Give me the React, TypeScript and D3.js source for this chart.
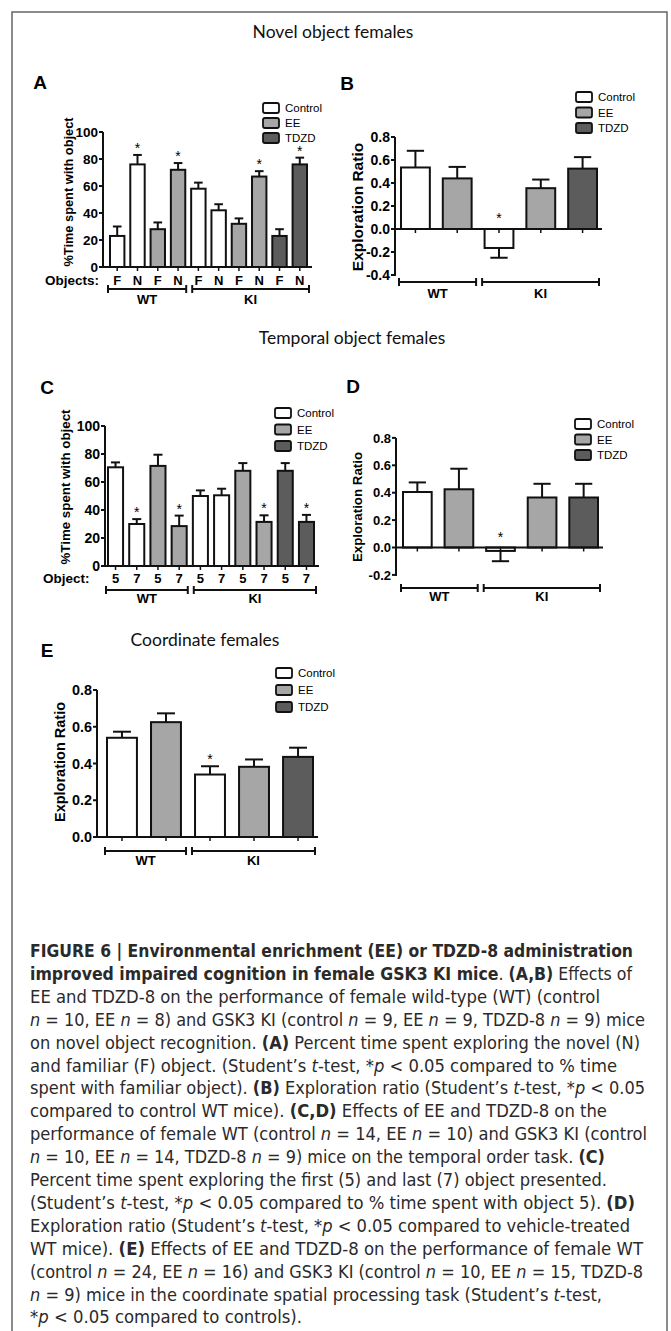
import React from "react";
import * as d3 from "d3";

// ---------- data ----------
const legendItems = ["Control", "EE", "TDZD"];

// A: novel object, % time with object
const novelObjects = ["F", "N", "F", "N", "F", "N", "F", "N", "F", "N"];
const novelGroups = ["Control", "Control", "EE", "EE", "Control", "Control", "EE", "EE", "TDZD", "TDZD"];
const novelGenotype = ["WT", "WT", "WT", "WT", "KI", "KI", "KI", "KI", "KI", "KI"];
const novelTime = [23, 76, 28, 72, 58, 42, 32, 67, 23, 76];
const novelTimeSem = [7, 7, 5, 5, 4.5, 4.5, 4, 4, 5, 5];
const novelTimeStar = [false, true, false, true, false, false, false, true, false, true];

// B: novel object, exploration ratio
const ratioGroups = ["Control", "EE", "Control", "EE", "TDZD"];
const ratioGenotype = ["WT", "WT", "KI", "KI", "KI"];
const novelRatio = [0.535, 0.44, -0.165, 0.355, 0.525];
const novelRatioSem = [0.145, 0.1, 0.085, 0.075, 0.1];
const novelRatioStar = [false, false, true, false, false];

// C: temporal order, % time with object
const temporalObjects = ["5", "7", "5", "7", "5", "7", "5", "7", "5", "7"];
const temporalTime = [70.5, 30, 71.5, 28.5, 50, 50.5, 68, 31.5, 68, 31.5];
const temporalTimeSem = [3.5, 3.5, 8, 7.5, 4, 4.7, 5.5, 4.7, 5.5, 5];
const temporalTimeStar = [false, true, false, true, false, false, false, true, false, true];

// D: temporal order, exploration ratio
const temporalRatio = [0.405, 0.425, -0.025, 0.365, 0.365];
const temporalRatioSem = [0.07, 0.15, 0.075, 0.1, 0.1];
const temporalRatioStar = [false, false, true, false, false];

// E: coordinate, exploration ratio
const coordRatio = [0.54, 0.625, 0.34, 0.382, 0.436];
const coordRatioSem = [0.033, 0.048, 0.045, 0.04, 0.05];
const coordRatioStar = [false, false, true, false, false];

// caption: each line is a list of [text, style] ("b" bold, "i" italic, "" plain)
const captionLines: [string, string][][] = [
  [["FIGURE 6 | Environmental enrichment (EE) or TDZD-8 administration", "b"]],
  [["improved impaired cognition in female GSK3 KI mice", "b"], [". ", ""], ["(A,B)", "b"], [" Effects of", ""]],
  [["EE and TDZD-8 on the performance of female wild-type (WT) (control", ""]],
  [["n", "i"], [" = 10, EE ", ""], ["n", "i"], [" = 8) and GSK3 KI (control ", ""], ["n", "i"], [" = 9, EE ", ""], ["n", "i"], [" = 9, TDZD-8 ", ""], ["n", "i"], [" = 9) mice", ""]],
  [["on novel object recognition. ", ""], ["(A)", "b"], [" Percent time spent exploring the novel (N)", ""]],
  [["and familiar (F) object. (Student\u2019s ", ""], ["t", "i"], ["-test, *", ""], ["p", "i"], [" < 0.05 compared to % time", ""]],
  [["spent with familiar object). ", ""], ["(B)", "b"], [" Exploration ratio (Student\u2019s ", ""], ["t", "i"], ["-test, *", ""], ["p", "i"], [" < 0.05", ""]],
  [["compared to control WT mice). ", ""], ["(C,D)", "b"], [" Effects of EE and TDZD-8 on the", ""]],
  [["performance of female WT (control ", ""], ["n", "i"], [" = 14, EE ", ""], ["n", "i"], [" = 10) and GSK3 KI (control", ""]],
  [["n", "i"], [" = 10, EE ", ""], ["n", "i"], [" = 14, TDZD-8 ", ""], ["n", "i"], [" = 9) mice on the temporal order task. ", ""], ["(C)", "b"]],
  [["Percent time spent exploring the first (5) and last (7) object presented.", ""]],
  [["(Student\u2019s ", ""], ["t", "i"], ["-test, *", ""], ["p", "i"], [" < 0.05 compared to % time spent with object 5). ", ""], ["(D)", "b"]],
  [["Exploration ratio (Student\u2019s ", ""], ["t", "i"], ["-test, *", ""], ["p", "i"], [" < 0.05 compared to vehicle-treated", ""]],
  [["WT mice). ", ""], ["(E)", "b"], [" Effects of EE and TDZD-8 on the performance of female WT", ""]],
  [["(control ", ""], ["n", "i"], [" = 24, EE ", ""], ["n", "i"], [" = 16) and GSK3 KI (control ", ""], ["n", "i"], [" = 10, EE ", ""], ["n", "i"], [" = 15, TDZD-8", ""]],
  [["n", "i"], [" = 9) mice in the coordinate spatial processing task (Student\u2019s ", ""], ["t", "i"], ["-test,", ""]],
  [["*", ""], ["p", "i"], [" < 0.05 compared to controls).", ""]],
];
// right edge of each caption line in the figure
const captionEnds = [633, 632, 600, 645, 640, 617, 645, 607, 647, 605, 607, 635, 630, 643, 643, 602, 302];

// ---------- styling ----------
const fills: Record<string, string> = { Control: "#ffffff", EE: "#a6a6a6", TDZD: "#5c5c5c" };
const ARIAL = "'Liberation Sans', Arial, sans-serif";
const fmtLocale = d3.formatLocale({ decimal: ".", thousands: ",", grouping: [3], currency: ["", ""], minus: "-" });

type PanelSpec = {
  letter: string; letterX: number; letterY: number;
  values: number[]; sems: number[]; stars: boolean[];
  groups: string[]; genotype: string[];
  xLabels?: string[]; xTitle?: string; xTitleX?: number; labelY?: number;
  yDomain: [number, number]; yRange: [number, number]; nTicks: number; tickFmt: string; tickSize: number;
  axisX: number; barStart: number; barEnd: number; padInner: number;
  yLabel: string; yLabelX: number; yLabelY: number; yLabelSize: number;
  legendX: number; legendY: number; legendStep: number;
  bracketY: number; genoLabelY: number;
};

function Panel(p: PanelSpec) {
  const y = d3.scaleLinear().domain(p.yDomain).range(p.yRange);
  const x = d3.scaleBand<number>().domain(d3.range(p.values.length)).range([p.barStart, p.barEnd])
    .paddingInner(p.padInner).paddingOuter(0);
  const bw = x.bandwidth();
  const y0 = y(0);
  const ticks = y.ticks(p.nTicks);
  const fmt = fmtLocale.format(p.tickFmt);
  const cap = bw * 0.6;

  const wtIdx = p.genotype.map((g, i) => (g === "WT" ? i : -1)).filter((i) => i >= 0);
  const kiIdx = p.genotype.map((g, i) => (g === "KI" ? i : -1)).filter((i) => i >= 0);
  const mid = ((x(wtIdx[wtIdx.length - 1]) as number) + bw + (x(kiIdx[0]) as number)) / 2;
  const brackets = [
    { name: "WT", x1: (x(wtIdx[0]) as number) - 2, x2: mid - 2 },
    { name: "KI", x1: mid + 4, x2: (x(kiIdx[kiIdx.length - 1]) as number) + bw + 2 },
  ];

  return (
    <g>
      <text x={p.letterX} y={p.letterY} fontFamily={ARIAL} fontWeight="bold" fontSize={19} textAnchor="middle">{p.letter}</text>

      {/* bars */}
      {p.values.map((v, i) => {
        const bx = x(i) as number;
        const top = Math.min(y(v), y0);
        return (
          <rect key={"b" + i} x={bx} y={top} width={bw} height={Math.abs(y(v) - y0)}
            fill={fills[p.groups[i]]} stroke="#111" strokeWidth={2} />
        );
      })}

      {/* error bars */}
      {p.values.map((v, i) => {
        const cx = (x(i) as number) + bw / 2;
        const e = v >= 0 ? v + p.sems[i] : v - p.sems[i];
        return (
          <g key={"e" + i} stroke="#111" strokeWidth={2}>
            <line x1={cx} x2={cx} y1={y(v)} y2={y(e)} />
            <line x1={cx - cap / 2} x2={cx + cap / 2} y1={y(e)} y2={y(e)} />
          </g>
        );
      })}

      {/* significance stars */}
      {p.values.map((v, i) => {
        if (!p.stars[i]) return null;
        const cx = (x(i) as number) + bw / 2;
        const cy = v >= 0 ? y(v + p.sems[i]) - 9 : y0 - 13;
        return <text key={"s" + i} x={cx} y={cy + 7} textAnchor="middle" fontFamily={ARIAL} fontSize={14}>*</text>;
      })}

      {/* y axis */}
      <line x1={p.axisX} x2={p.axisX} y1={y(p.yDomain[0]) + 1} y2={y(p.yDomain[1])} stroke="#111" strokeWidth={2} />
      {ticks.map((t) => (
        <g key={"t" + t}>
          <line x1={p.axisX - 4} x2={p.axisX} y1={y(t)} y2={y(t)} stroke="#111" strokeWidth={2} />
          <text x={p.axisX - 5} y={y(t) + p.tickSize * 0.36} textAnchor="end" fontFamily={ARIAL}
            fontWeight="bold" fontSize={p.tickSize}>{fmt(t)}</text>
        </g>
      ))}
      <text transform={`translate(${p.yLabelX},${p.yLabelY}) rotate(-90)`} textAnchor="middle"
        fontFamily={ARIAL} fontWeight="bold" fontSize={p.yLabelSize}>{p.yLabel}</text>

      {/* x axis at zero */}
      <line x1={p.axisX} x2={p.barEnd + 5} y1={y0} y2={y0} stroke="#111" strokeWidth={2} />
      {p.values.map((_, i) => {
        const cx = (x(i) as number) + bw / 2;
        return <line key={"xt" + i} x1={cx} x2={cx} y1={y0} y2={y0 + 4} stroke="#111" strokeWidth={1.5} />;
      })}

      {/* object labels */}
      {p.xTitle && (
        <text x={p.xTitleX} y={p.labelY} fontFamily={ARIAL} fontWeight="bold" fontSize={13.5}>{p.xTitle}</text>
      )}
      {p.xLabels && p.xLabels.map((l, i) => (
        <text key={"xl" + i} x={(x(i) as number) + bw / 2} y={p.labelY} textAnchor="middle"
          fontFamily={ARIAL} fontWeight="bold" fontSize={13}>{l}</text>
      ))}

      {/* genotype brackets */}
      {brackets.map((b) => (
        <g key={b.name}>
          <g stroke="#111" strokeWidth={2}>
            <line x1={b.x1} x2={b.x2} y1={p.bracketY} y2={p.bracketY} />
            <line x1={b.x1} x2={b.x1} y1={p.bracketY - 4} y2={p.bracketY + 4} />
            <line x1={b.x2} x2={b.x2} y1={p.bracketY - 4} y2={p.bracketY + 4} />
          </g>
          <text x={(b.x1 + b.x2) / 2} y={p.genoLabelY} textAnchor="middle" fontFamily={ARIAL}
            fontWeight="bold" fontSize={13}>{b.name}</text>
        </g>
      ))}

      {/* legend */}
      {legendItems.map((name, i) => {
        const cy = p.legendY + i * p.legendStep;
        return (
          <g key={"lg" + name}>
            <rect x={p.legendX} y={cy - 5} width={16} height={10} rx={2} fill={fills[name]} stroke="#111" strokeWidth={1.8} />
            <text x={p.legendX + 22} y={cy + 4} fontFamily={ARIAL} fontSize={11.5}>{name}</text>
          </g>
        );
      })}
    </g>
  );
}

export default function App() {
  const captionTop = 957;
  const captionStep = 22.9;
  return (
    <div style={{ position: "absolute", left: 0, top: 0 }}>
      <svg width={671} height={1331} style={{ display: "block", background: "#fff" }}>
        <rect x={12} y={12} width={655} height={1330} fill="none" stroke="#666" strokeWidth={1.5} />

        <g fontFamily="Lato, 'Open Sans', sans-serif" fontSize={17.5} textAnchor="middle" fill="#111">
          <text x={333} y={38}>Novel object females</text>
          <text x={352} y={344}>Temporal object females</text>
          <text x={205} y={646}>Coordinate females</text>
        </g>

        <Panel letter="A" letterX={40} letterY={88.5}
          values={novelTime} sems={novelTimeSem} stars={novelTimeStar}
          groups={novelGroups} genotype={novelGenotype}
          xLabels={novelObjects} xTitle="Objects:" xTitleX={45} labelY={285}
          yDomain={[0, 100]} yRange={[267, 132]} nTicks={5} tickFmt="d" tickSize={13.5}
          axisX={103} barStart={110} barEnd={307} padInner={0.29}
          yLabel="%Time spent with object" yLabelX={72.5} yLabelY={192} yLabelSize={12.8}
          legendX={263} legendY={108} legendStep={15}
          bracketY={289} genoLabelY={304} />

        <Panel letter="B" letterX={347} letterY={89.5}
          values={novelRatio} sems={novelRatioSem} stars={novelRatioStar}
          groups={ratioGroups} genotype={ratioGenotype}
          yDomain={[-0.4, 0.8]} yRange={[275, 137]} nTicks={6} tickFmt=".1f" tickSize={14}
          axisX={395} barStart={401} barEnd={597} padInner={0.31}
          yLabel="Exploration Ratio" yLabelX={362.5} yLabelY={207} yLabelSize={15.5}
          legendX={576} legendY={97} legendStep={15.5}
          bracketY={282} genoLabelY={298} />

        <Panel letter="C" letterX={47} letterY={393.5}
          values={temporalTime} sems={temporalTimeSem} stars={temporalTimeStar}
          groups={novelGroups} genotype={novelGenotype}
          xLabels={temporalObjects} xTitle="Object:" xTitleX={43} labelY={583}
          yDomain={[0, 100]} yRange={[566, 426]} nTicks={5} tickFmt="d" tickSize={14}
          axisX={105} barStart={108} barEnd={314} padInner={0.29}
          yLabel="%Time spent with object" yLabelX={70} yLabelY={487} yLabelSize={13.3}
          legendX={275} legendY={413} legendStep={16.5}
          bracketY={590} genoLabelY={603} />

        <Panel letter="D" letterX={353} letterY={392.5}
          values={temporalRatio} sems={temporalRatioSem} stars={temporalRatioStar}
          groups={ratioGroups} genotype={ratioGenotype}
          yDomain={[-0.2, 0.8]} yRange={[574.9, 437.9]} nTicks={5} tickFmt=".1f" tickSize={13}
          axisX={396} barStart={403} barEnd={598} padInner={0.31}
          yLabel="Exploration Ratio" yLabelX={362} yLabelY={507} yLabelSize={13.3}
          legendX={575} legendY={424} legendStep={15.5}
          bracketY={588} genoLabelY={601} />

        <Panel letter="E" letterX={47} letterY={656.5}
          values={coordRatio} sems={coordRatioSem} stars={coordRatioStar}
          groups={ratioGroups} genotype={ratioGenotype}
          yDomain={[0, 0.8]} yRange={[837, 690]} nTicks={4} tickFmt=".1f" tickSize={14.4}
          axisX={97} barStart={107} barEnd={313} padInner={0.32}
          yLabel="Exploration Ratio" yLabelX={65} yLabelY={762} yLabelSize={14.5}
          legendX={276} legendY={673} legendStep={17}
          bracketY={851} genoLabelY={865} />

        {/* caption */}
        <g fontFamily="'Liberation Sans Narrow', 'DejaVu Sans Condensed', Roboto, sans-serif" fontSize={17.5} fill="#2a2a2a">
          {captionLines.map((segs, li) => (
            <text key={"c" + li} x={30} y={captionTop + li * captionStep}
              textLength={captionEnds[li] - 30} lengthAdjust="spacingAndGlyphs">
              {segs.map(([t, s], si) => (
                <tspan key={si} fontWeight={s === "b" ? "bold" : "normal"} fontStyle={s === "i" ? "italic" : "normal"}>{t}</tspan>
              ))}
            </text>
          ))}
        </g>
      </svg>
    </div>
  );
}
